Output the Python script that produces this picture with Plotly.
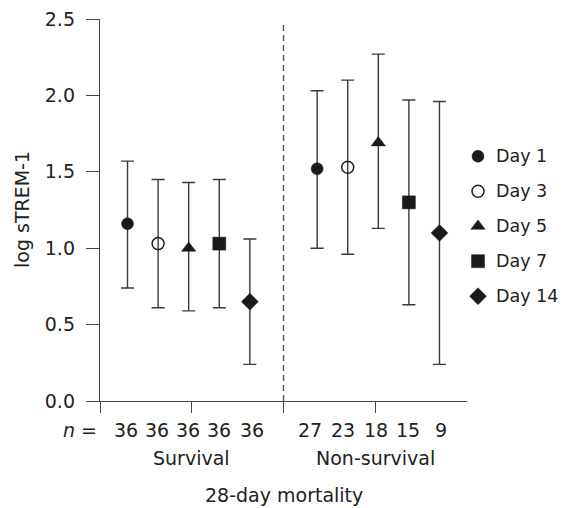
import plotly.graph_objects as go

# ---------------- data ----------------
days = ["Day 1", "Day 3", "Day 5", "Day 7", "Day 14"]
groups = ["Survival", "Non-survival"]
n_survival = [36, 36, 36, 36, 36]
n_nonsurvival = [27, 23, 18, 15, 9]

mean_survival = [1.16, 1.03, 1.00, 1.03, 0.65]
lower_survival = [0.74, 0.61, 0.59, 0.61, 0.24]
upper_survival = [1.57, 1.45, 1.43, 1.45, 1.06]

mean_nonsurvival = [1.52, 1.53, 1.69, 1.30, 1.10]
lower_nonsurvival = [1.00, 0.96, 1.13, 0.63, 0.24]
upper_nonsurvival = [2.03, 2.10, 2.27, 1.97, 1.96]

y_ticks = [0.0, 0.5, 1.0, 1.5, 2.0, 2.5]

# ---------------- styling ----------------
FONT = "DejaVu Sans"
FS = 19
LEG_FS = 17.5
TXT = "#222222"
AX = "#444444"
MK = "#1a1a1a"
ERR = "#3a3a3a"

symbols = ["circle", "circle-open", "triangle-up", "square", "diamond"]
sizes = [12, 12, 12.5, 13, 13]

W, H = 560, 500
ML, MR, MT, MB = 92, 0, 11, 107
PLOT_W = 367                      # width of the main axes in px
PAPER_W = W - ML - MR
PLOT_H = H - MT - MB
MAIN_FRAC = PLOT_W / PAPER_W

X_MAX = 12.0
Y_MAX = 2.5
group_center = [2.9, 9.1]
offsets = [-2, -1, 0, 1, 2]

# legend panel (x2 axis measured in px from the right end of the main axis)
LEG_W = PAPER_W - PLOT_W
LEG_MARKER_X = 11
LEG_TEXT_X = 28
LEG_TOP = 1.602
LEG_STEP = 0.229


def marker_style(i):
    open_mk = symbols[i] == "circle-open"
    return dict(symbol=symbols[i], size=sizes[i],
                color="#222222" if open_mk else MK,
                line=dict(width=1.5 if open_mk else 0.5, color="#222222"))


fig = go.Figure()
for i, day in enumerate(days):
    xs = [group_center[0] + offsets[i], group_center[1] + offsets[i]]
    ys = [mean_survival[i], mean_nonsurvival[i]]
    up = [upper_survival[i] - mean_survival[i], upper_nonsurvival[i] - mean_nonsurvival[i]]
    dn = [mean_survival[i] - lower_survival[i], mean_nonsurvival[i] - lower_nonsurvival[i]]
    fig.add_trace(go.Scatter(
        x=xs, y=ys, mode="markers", name=day, showlegend=False,
        marker=marker_style(i),
        error_y=dict(type="data", symmetric=False, array=up, arrayminus=dn,
                     color=ERR, thickness=1.4, width=6.5),
    ))

# legend markers in the side panel
for i, day in enumerate(days):
    fig.add_trace(go.Scatter(
        x=[LEG_MARKER_X], y=[LEG_TOP - i * LEG_STEP], mode="markers",
        xaxis="x2", yaxis="y",
        name=day, showlegend=False, hoverinfo="skip",
        marker=marker_style(i),
    ))

# dashed separator
fig.add_shape(type="line", x0=6, x1=6, y0=0, y1=2.48, xref="x", yref="y",
              line=dict(color="#555555", width=1.4, dash="6px,4px"))


def py(offset_px):
    return -offset_px / PLOT_H


ann = []
N_Y = py(29.4)
ann.append(dict(text="<i>n</i> =", x=-1 / PAPER_W, y=N_Y, xref="paper", yref="paper",
                xanchor="right", yanchor="middle", showarrow=False))
n_x_surv = [0.84, 1.85, 2.88, 3.89, 4.98]
n_x_non = [6.85, 7.94, 9.02, 10.07, 11.15]
for xv, nv in zip(n_x_surv, n_survival):
    ann.append(dict(text=str(nv), x=xv, y=N_Y, xref="x", yref="paper",
                    xanchor="center", yanchor="middle", showarrow=False))
for xv, nv in zip(n_x_non, n_nonsurvival):
    ann.append(dict(text=str(nv), x=xv, y=N_Y, xref="x", yref="paper",
                    xanchor="center", yanchor="middle", showarrow=False))
ann.append(dict(text=groups[0], x=3.0, y=py(57.3), xref="x", yref="paper",
                xanchor="center", yanchor="middle", showarrow=False))
ann.append(dict(text=groups[1], x=9.0, y=py(57.3), xref="x", yref="paper",
                xanchor="center", yanchor="middle", showarrow=False))
ann.append(dict(text="28-day mortality", x=6.0, y=py(94.3), xref="x", yref="paper",
                xanchor="center", yanchor="middle", showarrow=False))
ann.append(dict(text="log sTREM-1", x=-78 / PAPER_W, y=0.5, xref="paper", yref="paper",
                textangle=-90, xanchor="center", yanchor="middle", showarrow=False))
for i, day in enumerate(days):
    ann.append(dict(text=day, x=LEG_TEXT_X, y=LEG_TOP - i * LEG_STEP,
                    xref="x2", yref="y", xanchor="left", yanchor="middle",
                    showarrow=False, borderpad=0,
                    font=dict(family=FONT, size=LEG_FS, color=TXT)))

fig.update_layout(
    width=W, height=H,
    margin=dict(l=ML, r=MR, t=MT, b=MB, autoexpand=False),
    paper_bgcolor="white", plot_bgcolor="white",
    font=dict(family=FONT, size=FS, color=TXT),
    showlegend=False,
    annotations=ann,
    xaxis=dict(domain=[0, MAIN_FRAC], range=[0, X_MAX], showline=True, linecolor=AX,
               linewidth=1.4, tickvals=[0, 3, 6, 9], ticks="outside", ticklen=11,
               tickwidth=1.4, tickcolor=AX, showticklabels=False, showgrid=False,
               zeroline=False, fixedrange=True),
    xaxis2=dict(domain=[MAIN_FRAC, 1], range=[0, LEG_W], anchor="y", visible=False,
                showgrid=False, zeroline=False, fixedrange=True),
    yaxis=dict(range=[0, Y_MAX], showline=True, linecolor=AX, linewidth=1.4,
               tickvals=y_ticks, ticktext=[f"{v:.1f}" for v in y_ticks],
               ticks="outside", ticklen=13, tickwidth=1.4, tickcolor=AX,
               ticklabelstandoff=7, ticklabeloverflow="allow",
               showgrid=False, zeroline=False, fixedrange=True),
)

fig.write_html("out.html")
